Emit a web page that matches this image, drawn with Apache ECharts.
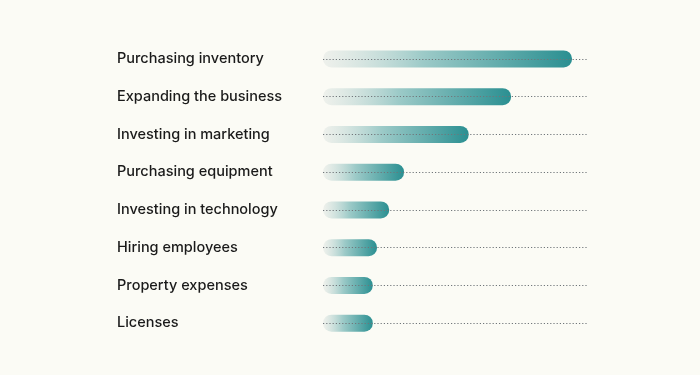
<!DOCTYPE html>
<html>
<head>
<meta charset="utf-8">
<script src="https://cdn.jsdelivr.net/npm/echarts@6/dist/echarts.min.js"></script>
<style>
  html, body { margin: 0; padding: 0; background: #fbfbf5; }
  #chart { width: 700px; height: 375px; }
</style>
</head>
<body>
<div id="chart"></div>
<script>
// categories top to bottom
const categories = [
  'Purchasing inventory',
  'Expanding the business',
  'Investing in marketing',
  'Purchasing equipment',
  'Investing in technology',
  'Hiring employees',
  'Property expenses',
  'Licenses',
]
// share of respondents (%)
const values = [47, 35.5, 27.5, 15.3, 12.5, 10.2, 9.4, 9.4]
const axisMax = 50

const chart = echarts.init(document.getElementById('chart'))

const teal = '#2a8f91'

chart.setOption({
  backgroundColor: '#fbfbf5',
  animation: false,
  grid: { left: 323, right: 112, top: 40, bottom: 33 },
  xAxis: {
    type: 'value',
    min: 0,
    max: axisMax,
    show: false,
  },
  yAxis: {
    type: 'category',
    inverse: true,
    data: categories,
    axisLine: { show: false },
    axisTick: { show: false },
    splitLine: { show: false },
    axisLabel: {
      align: 'left',
      margin: 206,
      color: '#1a1a1a',
      fontFamily: 'Inter',
      fontWeight: 500,
      fontSize: 14.5,
    },
  },
  series: [
    {
      // dotted guide lines behind the bars
      type: 'line',
      data: [],
      z: 1,
      silent: true,
      markLine: {
        silent: true,
        symbol: 'none',
        label: { show: false },
        lineStyle: { color: '#70767a', type: [1.2, 2], width: 1.2 },
        data: categories.map(c => [{ coord: [0, c] }, { coord: [axisMax, c] }]),
      },
    },
    {
      type: 'bar',
      data: values,
      z: 2,
      barWidth: 17,
      itemStyle: {
        borderRadius: 9,
        color: new echarts.graphic.LinearGradient(0, 0, 1, 0, [
          { offset: 0, color: 'rgba(200,210,208,0.25)' },
          { offset: 0.4, color: 'rgba(42,143,145,0.45)' },
          { offset: 1, color: teal },
        ]),
      },
    },
  ],
})
</script>
</body>
</html>
